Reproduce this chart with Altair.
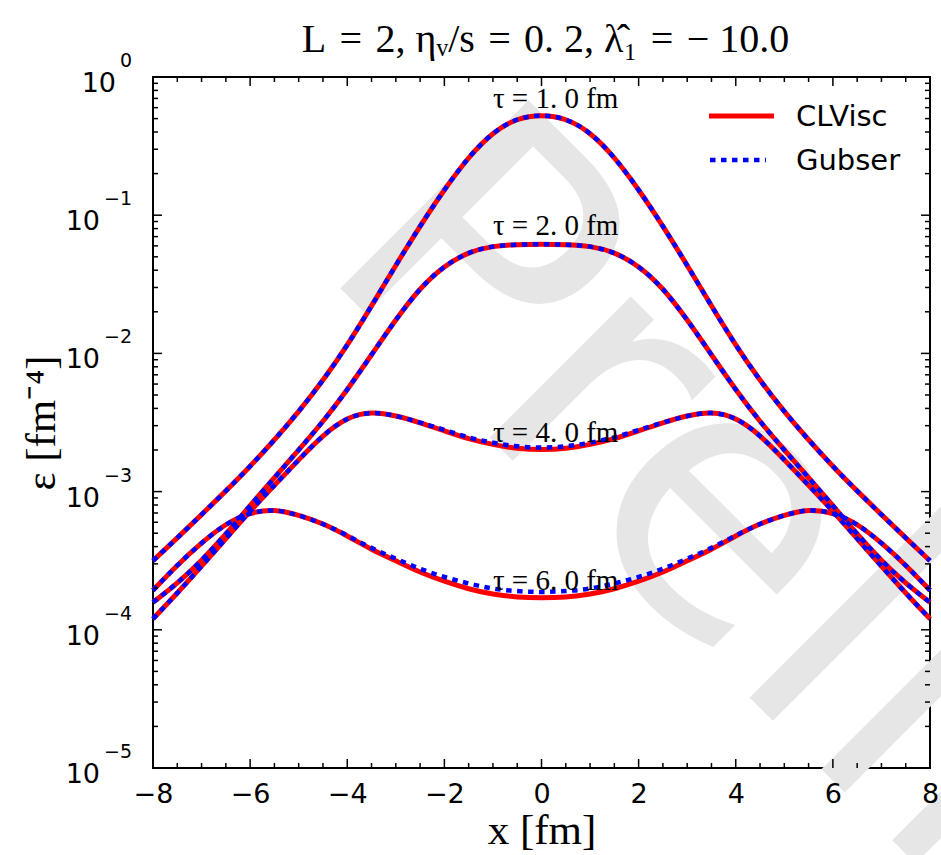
import altair as alt
import pandas as pd

# ---------------- data ----------------
x_fm = [-8.0, -7.5, -7.0, -6.5, -6.0, -5.5, -5.0, -4.5, -4.0, -3.5, -3.0, -2.5, -2.0, -1.5, -1.0, -0.5,
        0.0, 0.5, 1.0, 1.5, 2.0, 2.5, 3.0, 3.5, 4.0, 4.5, 5.0, 5.5, 6.0, 6.5, 7.0, 7.5, 8.0]

clvisc_tau1 = [0.000316, 0.000462, 0.000681, 0.00101, 0.00152, 0.00236, 0.00378, 0.00635, 0.0114, 0.0220,
               0.0435, 0.0838, 0.154, 0.265, 0.401, 0.505, 0.535, 0.505, 0.401, 0.265, 0.154, 0.0838,
               0.0435, 0.0220, 0.0114, 0.00635, 0.00378, 0.00236, 0.00152, 0.00101, 0.000681, 0.000462, 0.000316]
gubser_tau1 = list(clvisc_tau1)

clvisc_tau2 = [0.000158, 0.000216, 0.000316, 0.000490, 0.000794, 0.00126, 0.00200, 0.00320, 0.00543, 0.00977,
               0.0176, 0.0299, 0.0432, 0.0543, 0.0600, 0.0614, 0.0617, 0.0614, 0.0600, 0.0543, 0.0432, 0.0299,
               0.0176, 0.00977, 0.00543, 0.00320, 0.00200, 0.00126, 0.000794, 0.000490, 0.000316, 0.000216, 0.000158]
gubser_tau2 = list(clvisc_tau2)

clvisc_tau4 = [0.000120, 0.000184, 0.000288, 0.000457, 0.000724, 0.00111, 0.00170, 0.00257, 0.00347, 0.00380,
               0.00355, 0.00316, 0.00275, 0.00240, 0.00219, 0.00204, 0.00200, 0.00204, 0.00219, 0.00240, 0.00275,
               0.00316, 0.00355, 0.00380, 0.00347, 0.00257, 0.00170, 0.00111, 0.000724, 0.000457, 0.000288,
               0.000184, 0.000120]
gubser_tau4 = [0.000120, 0.000184, 0.000288, 0.000457, 0.000724, 0.00111, 0.00170, 0.00257, 0.00347, 0.00380,
               0.00355, 0.00316, 0.00280, 0.00245, 0.00225, 0.00211, 0.00207, 0.00211, 0.00225, 0.00245, 0.00280,
               0.00316, 0.00355, 0.00380, 0.00347, 0.00257, 0.00170, 0.00111, 0.000724, 0.000457, 0.000288,
               0.000184, 0.000120]

clvisc_tau6 = [0.000193, 0.000295, 0.000427, 0.000589, 0.000708, 0.000750, 0.000676, 0.000589, 0.000479, 0.000380,
               0.000316, 0.000260, 0.000224, 0.000197, 0.000180, 0.000172, 0.000170, 0.000172, 0.000180, 0.000197,
               0.000224, 0.000260, 0.000316, 0.000380, 0.000479, 0.000589, 0.000676, 0.000750, 0.000708, 0.000589,
               0.000427, 0.000295, 0.000193]
gubser_tau6 = [0.000193, 0.000295, 0.000427, 0.000589, 0.000708, 0.000750, 0.000676, 0.000589, 0.000482, 0.000389,
               0.000327, 0.000275, 0.000240, 0.000216, 0.000197, 0.000190, 0.000187, 0.000190, 0.000197, 0.000216,
               0.000240, 0.000275, 0.000327, 0.000389, 0.000482, 0.000589, 0.000676, 0.000750, 0.000708, 0.000589,
               0.000427, 0.000295, 0.000193]

tau_labels = ["τ = 1. 0 fm", "τ = 2. 0 fm", "τ = 4. 0 fm", "τ = 6. 0 fm"]
tau_label_x = [-1.0, -1.0, -1.0, -1.0]
tau_label_eps = [0.60, 0.0719, 0.00230, 0.000194]

legend_labels = ["CLVisc", "Gubser"]

x_major = [-8, -6, -4, -2, 0, 2, 4, 6, 8]
x_minor = [-7.5, -7, -6.5, -5.5, -5, -4.5, -3.5, -3, -2.5, -1.5, -1, -0.5,
           0.5, 1, 1.5, 2.5, 3, 3.5, 4.5, 5, 5.5, 6.5, 7, 7.5]
y_major = [1.0, 0.1, 0.01, 0.001, 0.0001, 0.00001]
y_exponents = ["0", "−1", "−2", "−3", "−4", "−5"]
y_minor = [m * d for d in [0.1, 0.01, 0.001, 0.0001, 0.00001] for m in [2, 3, 4, 5, 6, 7, 8, 9]]

title_text = "L\u2004=\u20042,  ηᵥ/s\u2004=\u20040. 2,  λ̂₁\u2004=\u2004− 10.0"
watermark = "Preliminary"

# ---------------- tables ----------------
rows = []
series = [(1.0, clvisc_tau1, gubser_tau1), (2.0, clvisc_tau2, gubser_tau2),
          (4.0, clvisc_tau4, gubser_tau4), (6.0, clvisc_tau6, gubser_tau6)]
for tau, cl, gb in series:
    for xv, a, b in zip(x_fm, cl, gb):
        rows.append({"x": xv, "eps": a, "tau": tau, "model": "CLVisc"})
        rows.append({"x": xv, "eps": b, "tau": tau, "model": "Gubser"})
df = pd.DataFrame(rows)

W, H = 777, 691
SERIF = "Liberation Serif"
SANS = "DejaVu Sans"

xs = alt.Scale(domain=[-8, 8], nice=False, zero=False)
ys = alt.Scale(type="log", domain=[1e-5, 1], nice=False)

x_axis = alt.Axis(values=x_major, ticks=False, tickSize=0, domain=False, grid=False,
                  labelFont=SANS, labelFontSize=27, labelColor="black", labelPadding=13,
                  labelFlush=False, labelOverlap=False, zindex=1,
                  title="x [fm]", titleFont=SERIF, titleFontSize=43, titleFontWeight="normal",
                  titleColor="black", titleX=W / 2, titleY=62, titleAlign="center", titleBaseline="middle")
y_axis = alt.Axis(labels=False, ticks=False, tickSize=0, domain=False, grid=False, zindex=1,
                  title="ε [fm⁻⁴]", titleFont=SERIF, titleFontSize=43, titleFontWeight="normal",
                  titleColor="black", titleX=-112, titleY=H / 2, titleAngle=270,
                  titleAlign="center", titleBaseline="middle")


def X(field="x"):
    return alt.X(f"{field}:Q", scale=xs, axis=x_axis)


def Y(field="eps"):
    return alt.Y(f"{field}:Q", scale=ys, axis=y_axis)


base = alt.Chart(df)

wm = alt.Chart(pd.DataFrame({"w": [watermark]})).mark_text(
    align="left", baseline="alphabetic", angle=45, fontSize=365, font=SANS, color="#e6e6e6"
).encode(text="w:N", x=alt.value(162), y=alt.value(186))

red = base.transform_filter("datum.model == 'CLVisc'").mark_line(
    color="#ff0000", strokeWidth=5, interpolate="basis"
).encode(x=X(), y=Y(), detail="tau:N")

blue = base.transform_filter("datum.model == 'Gubser'").mark_line(
    color="#0000ff", strokeWidth=4.5, strokeDash=[5.5, 5.5], interpolate="basis"
).encode(x=X(), y=Y(), detail="tau:N")

xmaj = pd.DataFrame({"x": x_major})
xmin = pd.DataFrame({"x": x_minor})
ymaj = pd.DataFrame({"eps": y_major, "exp": y_exponents})
ymin = pd.DataFrame({"eps": y_minor})


def xticks(d, length):
    b = alt.Chart(d).mark_rule(color="black", strokeWidth=1.5)
    return [b.encode(x=X(), y=alt.value(H), y2=alt.value(H - length)),
            b.encode(x=X(), y=alt.value(0), y2=alt.value(length))]


def yticks(d, length):
    b = alt.Chart(d).mark_rule(color="black", strokeWidth=1.5)
    return [b.encode(y=Y(), x=alt.value(0), x2=alt.value(length)),
            b.encode(y=Y(), x=alt.value(W), x2=alt.value(W - length))]


ticks = xticks(xmaj, 9) + xticks(xmin, 5) + yticks(ymaj, 9) + yticks(ymin, 5)

ylab0 = alt.Chart(ymaj).transform_filter("datum.exp == '0'")
ylabn = alt.Chart(ymaj).transform_filter("datum.exp != '0'")
ylabels = [
    ylab0.mark_text(align="right", baseline="alphabetic", dy=15, font=SANS, fontSize=27, color="black",
                    text="10").encode(y=Y(), x=alt.value(-37)),
    ylab0.mark_text(align="left", baseline="alphabetic", dy=-10, font=SANS, fontSize=19, color="black"
                    ).encode(y=Y(), x=alt.value(-33), text="exp:N"),
    ylabn.mark_text(align="right", baseline="alphabetic", dy=15, font=SANS, fontSize=27, color="black",
                    text="10").encode(y=Y(), x=alt.value(-53)),
    ylabn.mark_text(align="left", baseline="alphabetic", dy=-10, font=SANS, fontSize=19, color="black"
                    ).encode(y=Y(), x=alt.value(-49), text="exp:N"),
]

taudf = pd.DataFrame({"x": tau_label_x, "eps": tau_label_eps, "label": tau_labels})
taulab = alt.Chart(taudf).mark_text(
    align="left", baseline="alphabetic", font=SERIF, fontSize=29, color="black"
).encode(x=X(), y=Y(), text="label:N")

legdf = pd.DataFrame({"label": legend_labels})
leg_red = alt.Chart(legdf).transform_filter("datum.label == 'CLVisc'").mark_rule(
    color="#ff0000", strokeWidth=5).encode(x=alt.value(556), x2=alt.value(621), y=alt.value(39))
leg_blue = alt.Chart(legdf).transform_filter("datum.label == 'Gubser'").mark_rule(
    color="#0000ff", strokeWidth=4.5, strokeDash=[5.5, 5.5]).encode(x=alt.value(557), x2=alt.value(613),
                                                                      y=alt.value(83))
leg_txt1 = alt.Chart(legdf).transform_filter("datum.label == 'CLVisc'").mark_text(
    align="left", baseline="middle", font=SANS, fontSize=29, color="black").encode(
    x=alt.value(643), y=alt.value(40), text="label:N")
leg_txt2 = alt.Chart(legdf).transform_filter("datum.label == 'Gubser'").mark_text(
    align="left", baseline="middle", font=SANS, fontSize=29, color="black").encode(
    x=alt.value(643), y=alt.value(84), text="label:N")

title = alt.Chart(pd.DataFrame({"t": [title_text]})).mark_text(
    align="center", baseline="alphabetic", font=SERIF, fontSize=40, color="black"
).encode(x=alt.value(W / 2 + 4), y=alt.value(-25), text="t:N")

chart = alt.layer(
    wm, red, blue, *ticks, *ylabels, taulab, leg_red, leg_blue, leg_txt1, leg_txt2, title
).properties(
    width=W, height=H,
    autosize=alt.AutoSizeParams(type="none"),
    padding={"left": 153, "top": 77, "right": 11, "bottom": 87},
    background="white",
).configure_view(stroke="black", strokeWidth=2)

chart.save("out.html", embed_options={"renderer": "svg", "actions": False})
